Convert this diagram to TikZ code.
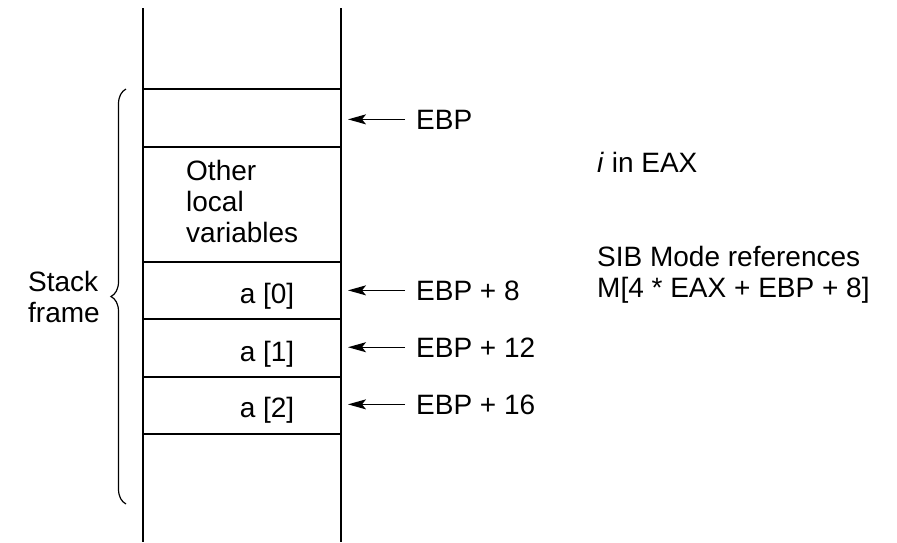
\documentclass[tikz,border=0pt]{standalone}
\usepackage{fontspec}
\setmainfont{Liberation Sans}
\usetikzlibrary{arrows.meta,decorations.pathreplacing}
\begin{document}
\begin{tikzpicture}[x=1pt,y=-1pt,
  lbl/.style={inner sep=0pt, anchor=base west, font=\fontsize{28}{31}\selectfont, align=left},
  wall/.style={line width=2.6pt},
  rule/.style={line width=2pt},
  ptr/.style={line width=1.3pt, -{Stealth[length=18pt,width=10pt,inset=4pt]}},
  bracestyle/.style={line width=1.2pt, decorate, decoration={brace, amplitude=15pt}},
]
\useasboundingbox (0,0) rectangle (897,542);

% stack walls
\coordinate (lw) at (143,0);
\coordinate (rw) at (341,0);
\draw[wall] (143,8) -- (143,542);
\draw[wall] (341,8) -- (341,542);

% slot boundaries
\foreach \y in {89,147,262,319,377,434}
  \draw[rule] (143,\y) -- (341,\y);

% slot contents (multi-line nodes sit on the baseline of their last line)
\node[lbl] (other) at (186,242) {Other\\local\\variables};
\node[lbl, anchor=base] (a0) at (267,303) {a [0]};
\node[lbl, anchor=base] (a1) at (267,361) {a [1]};
\node[lbl, anchor=base] (a2) at (267,417) {a [2]};

% address labels and pointers
\node[lbl] (e0) at (416,129) {EBP};
\node[lbl] (e8) at (416,300) {EBP + 8};
\node[lbl] (e12) at (416,357) {EBP + 12};
\node[lbl] (e16) at (416,414) {EBP + 16};
\foreach \n in {e0,e8,e12,e16}
  \draw[ptr] ([xshift=-11pt]\n.west) -- ([xshift=7pt]\n.west -| rw);

% stack frame brace
\coordinate (bbot) at (126,504);
\coordinate (btop) at (126,89);
\draw[bracestyle] (bbot) -- (btop);
\node[lbl] (sf) at (28,322) {Stack\\frame};

% notes
\node[lbl] (ieax) at (597,172) {\textit{i} in EAX};
\node[lbl] (sib) at (597,297) {SIB Mode references\\M[4 * EAX + EBP + 8]};
\end{tikzpicture}
\end{document}
